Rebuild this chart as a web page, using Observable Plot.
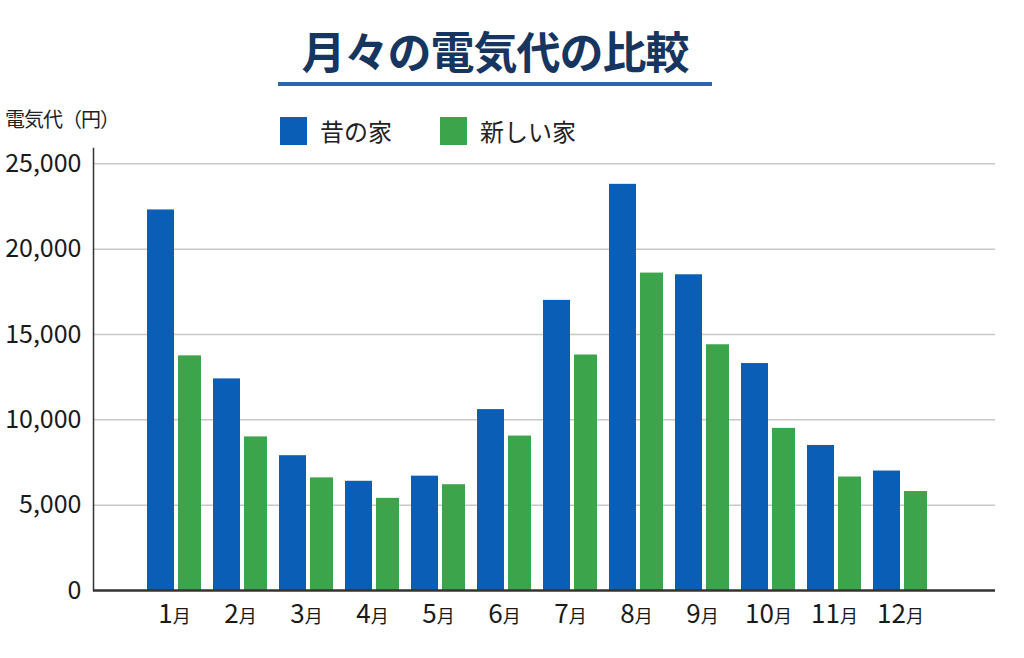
<!DOCTYPE html>
<html><head><meta charset="utf-8">
<script src="https://cdn.jsdelivr.net/npm/d3@7"></script>
<script src="https://cdn.jsdelivr.net/npm/@observablehq/plot@0.6"></script>
<style>
body{margin:0;background:#fff;width:1024px;height:658px;overflow:hidden;font-family:"Noto Sans CJK JP",sans-serif;position:relative}
#title{position:absolute;left:200px;width:590px;top:20px;text-align:center;font-size:44px;line-height:60px;font-weight:700;color:#16355f;letter-spacing:-1px}
#uline{position:absolute;left:278px;width:434px;top:82px;height:4px;background:#2a67b0}
#ylab{position:absolute;left:5px;top:104px;font-size:20px;line-height:30px;color:#222;letter-spacing:-1px}
.leg{position:absolute;top:114px;font-size:24px;line-height:34px;color:#222;display:flex;align-items:center}
.sw{width:27px;height:28px;margin-right:13px}
#chart{position:absolute;left:0;top:120px}
</style></head><body>
<div id="title">月々の電気代の比較</div>
<div id="uline"></div>
<div id="ylab">電気代（円）</div>
<div class="leg" style="left:280px"><div class="sw" style="background:#0b5eb6"></div>昔の家</div>
<div class="leg" style="left:440px"><div class="sw" style="background:#3ca54b"></div>新しい家</div>
<div id="chart"></div>
<script>
const months = ["1月","2月","3月","4月","5月","6月","7月","8月","9月","10月","11月","12月"];
const oldHouse = [22300, 12400, 7900, 6400, 6700, 10600, 17000, 23800, 18500, 13300, 8500, 7000];
const newHouse = [13750, 9000, 6600, 5400, 6200, 9050, 13800, 18600, 14400, 9500, 6650, 5800];
const yTicks = [0, 5000, 10000, 15000, 20000, 25000];
const seriesNames = ["昔の家", "新しい家"];
const colors = ["#0b5eb6", "#3ca54b"];

const oldData = months.map((m, i) => ({month: m, value: oldHouse[i]}));
const newData = months.map((m, i) => ({month: m, value: newHouse[i]}));

const chart = Plot.plot({
  width: 1024,
  height: 538,
  marginLeft: 93,
  marginRight: 29,
  marginTop: 28,
  marginBottom: 68,
  style: {fontFamily: '"Noto Sans CJK JP", sans-serif', color: "#1a1a1a", background: "transparent", overflow: "visible"},
  x: {domain: months, range: [139, 934], padding: 0, label: null},
  y: {domain: [0, 25900], label: null},
  marks: [
    Plot.gridY(yTicks.filter(d => d > 0), {stroke: "#c8c8c8", strokeOpacity: 1, strokeWidth: 1.5}),
    Plot.barY(oldData, {x: "month", y: "value", fill: colors[0], insetLeft: 6, insetRight: 33}),
    Plot.barY(newData, {x: "month", y: "value", fill: colors[1], insetLeft: 37, insetRight: 6}),
    Plot.axisY({ticks: yTicks, tickSize: 0, tickPadding: 12, fontSize: 25, tickFormat: d3.format(","), label: null}),
    Plot.axisX({tickSize: 0, tickPadding: 14, fontSize: 26, label: null}),
    Plot.frame({anchor: "left", stroke: "#333", strokeWidth: 1.5}),
    Plot.ruleY([0], {stroke: "#333", strokeWidth: 2.5})
  ]
});
document.getElementById("chart").appendChild(chart);

// render "月" smaller in x tick labels
d3.select(chart).selectAll('g[aria-label="x-axis tick label"] text').each(function() {
  const t = d3.select(this);
  const s = t.text();
  const num = s.replace("月", "");
  t.text(null);
  t.append("tspan").text(num);
  t.append("tspan").attr("font-size", 18).text("月");
});
</script>
</body></html>
